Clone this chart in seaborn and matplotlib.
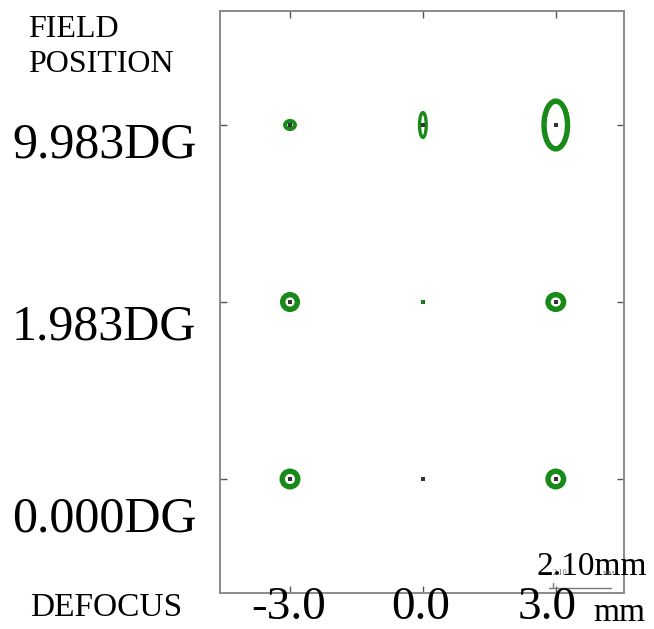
import matplotlib
matplotlib.use("Agg")
import matplotlib.pyplot as plt
from matplotlib.patches import Ellipse
import seaborn as sns
import pandas as pd

# ---------------- data ----------------
defocus = [-3.0, 0.0, 3.0]                      # mm
defocus_labels = ["-3.0", "0.0", "3.0"]
field_labels = ["0.000DG", "1.983DG", "9.983DG"]
field_rows = [0, 1, 2]
scale_mm = 2.10
# spot outer sizes (mm, full width / full height) for each field row x defocus
spot_w = [[0.71, 0.00, 0.71],
          [0.68, 0.11, 0.71],
          [0.47, 0.34, 0.98]]
spot_h = [[0.71, 0.00, 0.71],
          [0.68, 0.11, 0.68],
          [0.41, 0.95, 1.80]]

sns.set_style("white")
plt.rcParams["font.family"] = ["Liberation Serif", "DejaVu Serif"]
plt.rcParams["text.color"] = "black"

W, H = 654, 629
fig = plt.figure(figsize=(W / 100, H / 100), dpi=100)
L, R, T, B = 220, 624, 11, 593
ax = fig.add_axes([L / W, 1 - B / H, (R - L) / W, (B - T) / H])
xlim = (-4.58, 4.54)
ylim = (-0.644, 2.644)
ax.set_xlim(*xlim)
ax.set_ylim(*ylim)
pxx = (R - L) / (xlim[1] - xlim[0])
pxy = (B - T) / (ylim[1] - ylim[0])
spot_px_per_mm = 62 / scale_mm

green = "#178a17"
lw_max = 5.4
rows = []
for r in field_rows:
    for c, d in enumerate(defocus):
        w = spot_w[r][c] * spot_px_per_mm
        h = spot_h[r][c] * spot_px_per_mm
        rows.append(dict(x=d, y=r, w=w, h=h))
        if w > 8:
            lw_px = min(lw_max, 0.33 * min(w, h))
            ax.add_patch(Ellipse((d, r), (w - lw_px) / pxx, (h - lw_px) / pxy,
                                 fill=False, ec=green, lw=lw_px * 0.72))
        elif w > 0:
            ax.add_patch(Ellipse((d, r), w / pxx, h / pxy, fill=True,
                                 fc=green, ec=green, lw=0.5, zorder=6))
df = pd.DataFrame(rows)
# chief-ray centre dots
sns.scatterplot(data=df, x="x", y="y", ax=ax, s=7, color="#333333",
                marker="s", linewidth=0, legend=False, zorder=5)

ax.set_xticks(defocus)
ax.set_yticks(field_rows)
ax.tick_params(direction="in", length=5, width=1, color="#555555",
               top=True, right=True, bottom=True, left=True,
               labelbottom=False, labelleft=False)
ax.set_xlabel("")
ax.set_ylabel("")
for s in ax.spines.values():
    s.set_color("#8a8a8a")
    s.set_linewidth(1.4)
    s.set_visible(True)


def ftext(x, y, s, **kw):
    kw.setdefault("color", "black")
    fig.text(x / W, 1 - y / H, s, **kw)


ftext(28, 37, "FIELD", fontsize=23, va="baseline", ha="left")
ftext(28, 72, "POSITION", fontsize=23, va="baseline", ha="left")
ftext(30, 616, "DEFOCUS", fontsize=24, va="baseline", ha="left")

label_base = [532, 340, 158]
for r in field_rows:
    ftext(12, label_base[r], field_labels[r], fontsize=36, va="baseline", ha="left")

label_x = [289, 421, 547]
for lx, lab in zip(label_x, defocus_labels):
    ftext(lx, 619, lab, fontsize=34, va="baseline", ha="center")
ftext(593, 621, "mm", fontsize=24, va="baseline", ha="left")

# scale bar
ftext(537, 575, f"{scale_mm:.2f}mm", fontsize=24, va="baseline", ha="left")
ftext(553, 575, f"{scale_mm:.2f}", fontsize=6, va="baseline", ha="left", color="#666666")
ftext(603, 575, "MM", fontsize=5, va="baseline", ha="left", color="#666666")
x0 = L + 329
fig.add_artist(plt.Line2D([x0 / W, (x0 + 62) / W], [1 - 588 / H, 1 - 588 / H],
                          color="#777777", lw=1))
fig.add_artist(plt.Line2D([553 / W, 553 / W], [1 - 583 / H, 1 - 588 / H],
                          color="#777777", lw=1))

fig.savefig("out.png", dpi=100, facecolor="white")
